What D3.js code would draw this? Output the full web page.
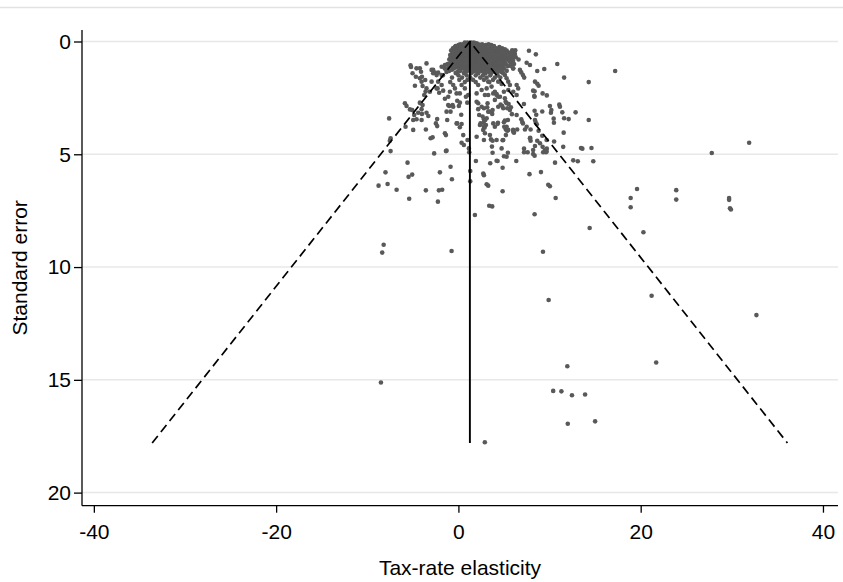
<!DOCTYPE html>
<html>
<head>
<meta charset="utf-8">
<script src="https://cdn.jsdelivr.net/npm/d3@7"></script>
<style>
  body { margin: 0; background: #fff; }
</style>
</head>
<body>
<svg></svg>
<script>
// estimates and their standard errors, [elasticity, se]
const coreStudies = [
  [0.7,0.05],[1.0,0.05],[1.4,0.05],[1.7,0.05],
  [0.9,0.08],[1.2,0.08],[1.6,0.08],[2.0,0.08],
  [0.2,0.12],[0.5,0.12],[0.9,0.12],[1.3,0.12],[1.8,0.12],[2.2,0.12],[2.6,0.12],[3.3,0.12],
  [0.0,0.16],[0.4,0.16],[0.8,0.16],[1.2,0.16],[1.6,0.16],[2.1,0.16],[2.5,0.16],[3.0,0.16],[3.6,0.16],
  [-0.3,0.2],[0.1,0.2],[0.6,0.2],[1.1,0.2],[1.5,0.2],[2.0,0.2],[2.4,0.2],[2.9,0.2],[3.9,0.2],
  [-0.4,0.25],[0.2,0.25],[0.7,0.25],[1.2,0.25],[1.9,0.25],[2.5,0.25],[3.0,0.25],[3.5,0.25],[4.5,0.25],
  [-0.6,0.3],[-0.1,0.3],[0.4,0.3],[0.8,0.3],[1.3,0.3],[1.7,0.3],[2.2,0.3],[2.7,0.3],[3.1,0.3],[4.2,0.3],[4.8,0.3],
  [-0.4,0.35],[0.1,0.35],[0.6,0.35],[1.1,0.35],[1.9,0.35],[2.4,0.35],[2.9,0.35],[3.7,0.35],[4.5,0.35],[5.1,0.35],
  [-0.8,0.4],[-0.2,0.4],[0.3,0.4],[0.9,0.4],[1.5,0.4],[2.0,0.4],[2.5,0.4],[3.0,0.4],[3.4,0.4],[4.0,0.4],[4.6,0.4],[5.3,0.4],
  [-0.6,0.45],[0.0,0.45],[0.6,0.45],[1.2,0.45],[1.8,0.45],[2.3,0.45],[2.7,0.45],[3.2,0.45],[3.7,0.45],[4.3,0.45],[4.9,0.45],[5.9,0.45],
  [-0.5,0.5],[0.1,0.5],[0.6,0.5],[1.1,0.5],[1.7,0.5],[2.3,0.5],[2.8,0.5],[3.3,0.5],[3.8,0.5],[4.4,0.5],[5.0,0.5],[5.6,0.5],
  [-0.7,0.55],[-0.1,0.55],[0.4,0.55],[0.9,0.55],[1.4,0.55],[2.0,0.55],[2.5,0.55],[3.0,0.55],[3.5,0.55],[4.1,0.55],[4.7,0.55],[5.3,0.55],[6.2,0.55],
  [-0.9,0.6],[-0.3,0.6],[0.3,0.6],[0.9,0.6],[1.4,0.6],[2.0,0.6],[2.6,0.6],[3.2,0.6],[3.6,0.6],[4.1,0.6],[4.7,0.6],[5.2,0.6],[6.0,0.6],
  [-0.5,0.65],[0.1,0.65],[0.7,0.65],[1.1,0.65],[1.7,0.65],[2.3,0.65],[2.8,0.65],[3.4,0.65],[3.9,0.65],[4.3,0.65],[4.9,0.65],[5.7,0.65],
  [-0.6,0.7],[0.0,0.7],[0.5,0.7],[1.2,0.7],[1.8,0.7],[2.4,0.7],[3.0,0.7],[3.5,0.7],[4.0,0.7],[4.5,0.7],[5.0,0.7],[5.5,0.7],[6.3,0.7],
  [-0.9,0.75],[-0.2,0.75],[0.3,0.75],[0.9,0.75],[1.5,0.75],[2.1,0.75],[2.6,0.75],[3.2,0.75],[3.7,0.75],[4.2,0.75],[4.7,0.75],[5.2,0.75],[5.9,0.75],
  [-1.0,0.8],[-0.3,0.8],[0.4,0.8],[1.0,0.8],[1.6,0.8],[2.2,0.8],[2.8,0.8],[3.3,0.8],[3.9,0.8],[4.4,0.8],[4.9,0.8],[5.4,0.8],[6.6,0.8],
  [-0.5,0.85],[0.2,0.85],[0.8,0.85],[1.4,0.85],[1.9,0.85],[2.5,0.85],[3.0,0.85],[3.6,0.85],[4.1,0.85],[4.6,0.85],[5.1,0.85],[6.0,0.85],
  [-0.7,0.9],[0.0,0.9],[0.7,0.9],[1.3,0.9],[2.0,0.9],[2.6,0.9],[3.1,0.9],[3.7,0.9],[4.3,0.9],[4.8,0.9],[5.6,0.9],
  [-0.9,0.95],[-0.1,0.95],[0.5,0.95],[1.1,0.95],[1.6,0.95],[2.2,0.95],[2.8,0.95],[3.3,0.95],[3.9,0.95],[4.5,0.95],[5.0,0.95],[5.8,0.95],
  [-1.2,1.0],[-0.4,1.0],[0.3,1.0],[1.0,1.0],[1.7,1.0],[2.4,1.0],[3.0,1.0],[3.6,1.0],[4.2,1.0],[4.7,1.0],[5.2,1.0],[6.1,1.0],
  [-0.6,1.05],[0.0,1.05],[0.6,1.05],[1.3,1.05],[1.9,1.05],[2.6,1.05],[3.2,1.05],[3.8,1.05],[4.4,1.05],[4.9,1.05],[5.7,1.05],
  [-0.8,1.1],[0.1,1.1],[0.8,1.1],[1.5,1.1],[2.2,1.1],[2.8,1.1],[3.4,1.1],[4.0,1.1],[4.6,1.1],[5.4,1.1],
  [-1.1,1.15],[-0.2,1.15],[0.4,1.15],[1.1,1.15],[1.8,1.15],[2.5,1.15],[3.1,1.15],[3.7,1.15],[4.3,1.15],[4.8,1.15],
  [-1.5,1.2],[-0.5,1.2],[0.5,1.2],[1.2,1.2],[2.0,1.2],[2.7,1.2],[3.3,1.2],[3.9,1.2],[4.5,1.2],[5.0,1.2],[6.0,1.2],
  [-0.7,1.25],[0.1,1.25],[0.8,1.25],[1.6,1.25],[2.3,1.25],[3.0,1.25],[3.6,1.25],[4.2,1.25],[4.8,1.25],
  [-1.0,1.3],[0.2,1.3],[1.0,1.3],[1.8,1.3],[2.5,1.3],[3.2,1.3],[3.8,1.3],[4.4,1.3],[5.3,1.3],
  [-1.3,1.35],[-0.1,1.35],[0.7,1.35],[1.5,1.35],[2.1,1.35],[2.8,1.35],[3.4,1.35],[4.0,1.35],[4.7,1.35],
  [-0.3,1.4],[0.6,1.4],[1.4,1.4],[2.2,1.4],[3.0,1.4],[3.6,1.4],[4.2,1.4],[4.9,1.4],
  [-1.7,1.5],[0.0,1.5],[0.9,1.5],[1.9,1.5],[2.7,1.5],[3.5,1.5],[4.3,1.5],
  [-0.7,1.6],[0.4,1.6],[1.3,1.6],[2.4,1.6],[3.1,1.6],[4.0,1.6],[4.6,1.6],
  [0.1,1.7],[1.0,1.7],[1.6,1.7],[2.8,1.7],[3.8,1.7],
  [-0.9,1.8],[0.7,1.8],[1.9,1.8],[3.4,1.8]
];

const otherStudies = [
  [31.9,4.49],[27.8,4.94],[19.6,6.54],[18.9,6.94],[18.9,7.35],[23.9,6.59],[23.9,7.01],
  [29.7,6.94],[29.7,7.02],[29.8,7.39],[29.9,7.45],[20.3,8.46],[21.2,11.27],[32.7,12.13],[21.7,14.23],
  [11.95,14.4],[10.4,15.49],[11.3,15.51],[12.46,15.68],[13.9,15.65],[12.0,16.95],[15.0,16.84],[2.9,17.77],
  [-0.75,9.29],[-8.36,9.36],[-8.2,9.01],[9.28,9.32],[14.4,8.27],[9.9,11.46],[-8.5,15.12],
  [1.81,7.69],[8.36,7.66],[3.38,7.28],[3.71,7.31],[10.67,6.94],[4.85,6.64],[-2.25,7.1],[-5.4,6.97],
  [-8.76,6.39],[-7.77,6.32],[-6.78,6.57],[-3.57,6.6],[-2.14,6.6],[-1.78,6.57],[-0.71,6.11],[-0.86,5.55],
  [-2.03,5.8],[-5.47,6.0],[-5.07,5.9],[-8.0,5.8],[-5.58,5.37],
  [1.3,5.74],[1.3,6.2],[1.92,5.3],[2.73,5.85],[2.8,5.93],[3.1,6.33],[3.27,6.39],[3.49,5.4],[4.3,5.3],
  [4.85,5.6],[5.0,5.09],[5.43,4.93],[6.35,5.3],[7.8,5.88],[9.06,5.79],[9.86,6.35],[10.04,6.42],
  [3.75,4.93],[7.2,4.91],[7.6,4.91],[8.2,4.99],[8.36,5.06],[9.3,4.91],[9.6,4.91],[10.6,5.37],
  [12.6,5.27],[13.1,5.31],[14.8,5.31],[-7.44,4.86],[-2.66,4.96],[-1.37,4.86],[1.19,4.91],
  [14.3,3.48],[12.86,3.14],[11.55,4.04],[14.6,4.72],[13.45,4.72],[13.6,4.75],[10.5,4.43],[7.2,4.75],
  [8.4,4.63],[9.5,4.81],[9.7,4.75],[4.85,4.38],[7.88,4.27],[7.92,4.4],[8.65,4.4],[9.2,4.18],[9.68,4.37],
  [7.3,3.9],[6.0,3.92],[6.1,4.04],[6.45,3.9],[5.2,3.9],[5.36,3.96],[6.9,3.45],[7.0,3.57],[7.08,3.63],
  [8.47,3.57],[8.6,3.67],[8.8,3.96],[5.1,3.51],[5.43,3.48],[5.03,3.78],[8.36,3.07],[8.54,3.25],[9.2,3.1],
  [10.04,2.86],[10.2,3.04],[10.15,3.16],[10.45,3.42],[10.48,3.6],[11.07,2.8],[11.14,2.89],[11.4,3.14],
  [11.6,3.4],[12.1,3.44],[9.24,2.3],[9.7,2.39],[8.36,2.21],[8.36,2.45],[7.19,2.77],
  [4.81,2.86],[4.92,2.96],[4.63,2.8],[5.18,2.67],[5.51,2.77],[5.76,2.92],[5.65,3.04],[5.87,3.22],
  [10.85,1.0],[11.6,1.6],[14.3,1.8],[9.42,1.22],[8.65,1.31],[7.74,0.41],[8.5,0.57],[5.9,0.39],[6.24,0.39],
  [7.49,0.94],[7.85,1.04],[7.08,1.49],[7.22,1.6],[8.4,1.78],[8.65,1.87],[8.8,1.96],[6.75,1.26],[6.9,1.37],
  [8.2,2.18],[8.32,2.42],[17.2,1.31],
  [3.46,0.16],[3.75,0.27],[3.64,0.38],[5.65,0.82],[5.73,1.07],[6.02,1.19],
  [5.1,1.49],[5.29,1.63],[5.47,1.78],[5.65,1.93],[6.39,1.93],[6.56,2.08],[6.02,2.23],[6.39,2.37],
  [3.82,2.3],[4.37,2.45],[5.1,2.52],[3.1,2.08],
  [-5.25,1.05],[-5.2,1.13],[-4.6,1.19],[-4.23,1.19],[-4.1,1.34],[-3.5,0.97],[-4.67,1.56],[-4.23,1.63],
  [-4.04,1.78],[-4.77,1.96],[-3.5,2.08],[-3.6,2.22],[-3.75,2.37],[-2.77,1.26],[-2.58,1.38],[-2.39,1.49],
  [-1.84,1.12],[-1.48,1.04],[-1.3,1.26],[-2.22,1.78],[-1.84,1.93],[-2.28,2.08],[-2.94,1.78],
  [-0.57,1.93],[-0.38,2.08],[-0.93,2.23],[-0.2,2.3],[0.35,1.93],[0.71,2.08],[0.16,2.3],[1.08,2.37],
  [2.17,1.93],[2.55,2.15],[2.91,2.37],[2.0,2.3],[3.64,2.0],[4.0,2.23],[3.27,1.78],[4.37,1.78],
  [-7.6,3.41],[-7.44,4.29],[-7.52,4.4],[-5.87,2.74],[-5.69,2.86],[-5.32,3.01],[-5.07,3.04],
  [-4.85,3.26],[-4.59,3.45],[-4.15,2.74],[-3.93,2.82],[-4.0,3.21],[-3.5,3.16],[-3.3,3.3],
  [-5.8,3.78],[-4.96,3.92],[-3.57,3.9],[-2.33,3.44],[-2.47,3.63],[-2.33,3.75],[-3.05,4.29],[-2.83,4.25],
  [-1.37,4.15],[-1.3,4.84],[-1.3,3.11],[-1.23,3.48],[-1.0,2.86],[-1.11,2.45],
  [-0.64,2.82],[-0.13,2.63],[0.16,2.71],[0.05,2.86],[0.31,3.25],[-0.13,3.63],[0.35,3.66],
  [0.35,4.49],[0.6,4.59],[1.0,4.37],[1.15,4.74],[0.82,2.45],[0.97,2.71],
  [2.17,2.74],[2.28,3.26],[2.43,3.63],[2.0,4.22],[2.8,4.37],[3.57,4.34],[3.75,4.4],
  [3.27,2.37],[3.2,2.74],[3.16,2.92],[2.55,2.89],[3.27,3.11],
  [2.66,3.33],[2.8,3.45],[2.94,3.48],[2.77,3.6],[3.02,3.7],[2.88,3.81],
  [3.71,3.21],[3.82,3.63],[4.34,3.6],[4.19,2.33],[4.0,2.59],[4.37,2.89],[3.68,4.66],[4.19,5.29],[4.92,4.37],
  [4.99,3.58],[5.29,2.74],[5.36,2.96],[5.21,3.85],
  [-5.03,1.41],[-4.0,1.56],[-3.64,1.71],[-3.93,1.97],[-2.94,1.26],[-2.77,1.41],[-2.22,1.38],[-1.84,1.49],
  [-3.13,2.23],[-2.39,2.08],[-2.11,2.27],[-1.67,2.18],[-4.23,2.71],[-4.04,3.0],[-4.41,3.16],[-1.48,2.54],
  [-1.12,2.82],[-0.57,2.89],[-0.86,3.11],[-4.96,3.48],[-4.04,3.48],
  [-1.48,4.07],[-0.2,3.63],[0.16,3.8],[0.53,4.15],
  [2.0,2.67],[2.17,3.0],[2.8,2.96],[3.38,3.11],[3.75,3.04],[3.1,3.4],
  [2.72,3.92],[2.91,4.07],[2.36,3.7],[3.46,4.15],[2.8,3.78],
  [4.0,3.78],[4.3,3.65],[5.29,3.78],[5.47,3.92],[5.21,4.15],[6.02,4.0],
  [4.19,4.37],[4.74,4.74],[5.29,5.11],[6.39,3.26],
  [4.99,2.23],[5.47,2.15],[4.74,1.88],[4.19,2.37],[4.56,2.45],
  [7.49,3.78],[7.92,3.9],[8.4,3.48],
  [7.85,4.29],[8.2,4.81],[8.95,4.51],[9.24,4.67],[9.68,4.88],[11.5,4.67]
];

// pseudo 95% confidence limits and the pooled estimate
const funnelX = [-33.6, 1.26, 36.1];
const funnelSE = [17.8, 0, 17.8];
const meanX = [1.26, 1.26];
const meanSE = [0, 17.8];

const xTicks = [-40, -20, 0, 20, 40];
const yTicks = [0, 5, 10, 15, 20];

const width = 843, height = 582;
const font = "'Liberation Sans', Arial, sans-serif";

const x = d3.scaleLinear().domain([-41.3, 41.65]).range([82, 838]);
const y = d3.scaleLinear().domain([-0.51, 20.58]).range([30, 505.7]);

const svg = d3.select("svg")
    .attr("width", width)
    .attr("height", height)
    .attr("viewBox", [0, 0, width, height]);

// faint rule left over from the page above the figure
svg.append("line")
    .attr("x1", 0).attr("x2", width)
    .attr("y1", 7.5).attr("y2", 7.5)
    .attr("stroke", "#e2e2e2")
    .attr("stroke-width", 1.5);

svg.append("g")
  .selectAll("line")
  .data(yTicks)
  .join("line")
    .attr("x1", x.range()[0]).attr("x2", x.range()[1])
    .attr("y1", d => y(d)).attr("y2", d => y(d))
    .attr("stroke", "#e8e8e8")
    .attr("stroke-width", 1.5);

const points = coreStudies.concat(otherStudies);

svg.append("g")
    .attr("fill", "#595959")
  .selectAll("circle")
  .data(points)
  .join("circle")
    .attr("cx", d => x(d[0]))
    .attr("cy", d => y(d[1]))
    .attr("r", 2.3);

const line = d3.line()
    .x(d => x(d[0]))
    .y(d => y(d[1]));

svg.append("path")
    .attr("fill", "none")
    .attr("stroke", "black")
    .attr("stroke-width", 1.7)
    .attr("stroke-dasharray", "9,5")
    .attr("d", line(d3.zip(funnelX, funnelSE)));

svg.append("path")
    .attr("fill", "none")
    .attr("stroke", "black")
    .attr("stroke-width", 1.9)
    .attr("d", line(d3.zip(meanX, meanSE)));

// axes, with a plain hyphen for negatives as in the original
const xAxis = d3.axisBottom(x).tickValues(xTicks).tickSize(7).tickPadding(11)
    .tickFormat(d => String(d));
const yAxis = d3.axisLeft(y).tickValues(yTicks).tickSize(8).tickPadding(3)
    .tickFormat(d => String(d));

const gx = svg.append("g")
    .attr("transform", `translate(0,${y.range()[1]})`)
    .call(xAxis);
const gy = svg.append("g")
    .attr("transform", `translate(${x.range()[0]},0)`)
    .call(yAxis);

[gx, gy].forEach(g => {
  g.select(".domain").remove();
  g.attr("font-family", font).attr("font-size", 21);
  g.selectAll(".tick line").attr("stroke", "black").attr("stroke-width", 1.3);
  g.selectAll(".tick text").attr("fill", "black");
});

svg.append("line")
    .attr("x1", x.range()[0]).attr("x2", x.range()[1])
    .attr("y1", y.range()[1]).attr("y2", y.range()[1])
    .attr("stroke", "black").attr("stroke-width", 1.3);
svg.append("line")
    .attr("x1", x.range()[0]).attr("x2", x.range()[0])
    .attr("y1", y.range()[0]).attr("y2", y.range()[1])
    .attr("stroke", "black").attr("stroke-width", 1.3);

svg.append("text")
    .attr("x", (x.range()[0] + x.range()[1]) / 2)
    .attr("y", 575)
    .attr("text-anchor", "middle")
    .attr("font-family", font)
    .attr("font-size", 21)
    .text("Tax-rate elasticity");

svg.append("text")
    .attr("transform", `translate(27,${(y.range()[0] + y.range()[1]) / 2}) rotate(-90)`)
    .attr("text-anchor", "middle")
    .attr("font-family", font)
    .attr("font-size", 21)
    .text("Standard error");
</script>
</body>
</html>
